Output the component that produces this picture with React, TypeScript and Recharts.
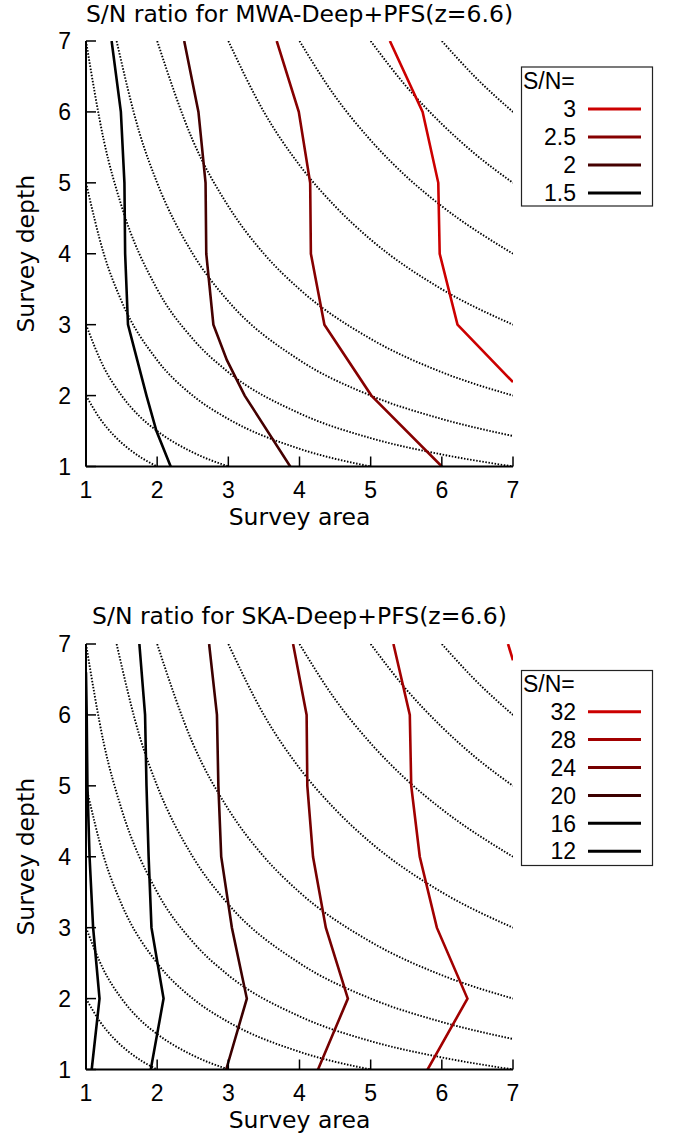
import React from 'react';
import { LineChart, Line, XAxis, YAxis, Label } from 'recharts';

type Pt = { x: number; y: number };

const TXT_FONT = "'DejaVu Sans', sans-serif";
const NUM_FONT = "'Liberation Sans', Arial, sans-serif";

const axisTicks = [1, 2, 3, 4, 5, 6, 7];

// dotted guide curves (same in both panels)
const guide2: Pt[] = [
  { x: 1, y: 2 }, { x: 1.2, y: 1.67 }, { x: 1.4, y: 1.43 }, { x: 1.6, y: 1.25 }, { x: 1.8, y: 1.11 }, { x: 2, y: 1 },
];
const guide3: Pt[] = [
  { x: 1, y: 3 }, { x: 1.25, y: 2.4 }, { x: 1.5, y: 2 }, { x: 1.75, y: 1.71 }, { x: 2, y: 1.5 }, { x: 2.5, y: 1.2 }, { x: 3, y: 1 },
];
const guide5: Pt[] = [
  { x: 1, y: 5 }, { x: 1.25, y: 4 }, { x: 1.5, y: 3.33 }, { x: 2, y: 2.5 }, { x: 2.5, y: 2 }, { x: 3, y: 1.67 }, { x: 4, y: 1.25 }, { x: 5, y: 1 },
];
const guide7: Pt[] = [
  { x: 1, y: 7 }, { x: 1.25, y: 5.6 }, { x: 1.5, y: 4.67 }, { x: 2, y: 3.5 }, { x: 2.5, y: 2.8 }, { x: 3, y: 2.33 }, { x: 4, y: 1.75 }, { x: 5, y: 1.4 }, { x: 6, y: 1.17 }, { x: 7, y: 1 },
];
const guide10: Pt[] = [
  { x: 1.43, y: 7 }, { x: 1.75, y: 5.71 }, { x: 2, y: 5 }, { x: 2.5, y: 4 }, { x: 3, y: 3.33 }, { x: 4, y: 2.5 }, { x: 5, y: 2 }, { x: 6, y: 1.67 }, { x: 7, y: 1.43 },
];
const guide14: Pt[] = [
  { x: 2, y: 7 }, { x: 2.5, y: 5.6 }, { x: 3, y: 4.67 }, { x: 3.5, y: 4 }, { x: 4, y: 3.5 }, { x: 5, y: 2.8 }, { x: 6, y: 2.33 }, { x: 7, y: 2 },
];
const guide21: Pt[] = [
  { x: 3, y: 7 }, { x: 3.5, y: 6 }, { x: 4, y: 5.25 }, { x: 4.5, y: 4.67 }, { x: 5, y: 4.2 }, { x: 6, y: 3.5 }, { x: 7, y: 3 },
];
const guide28: Pt[] = [
  { x: 4, y: 7 }, { x: 4.5, y: 6.22 }, { x: 5, y: 5.6 }, { x: 5.5, y: 5.09 }, { x: 6, y: 4.67 }, { x: 7, y: 4 },
];
const guide35: Pt[] = [
  { x: 5, y: 7 }, { x: 5.5, y: 6.36 }, { x: 6, y: 5.83 }, { x: 6.5, y: 5.38 }, { x: 7, y: 5 },
];
const guide42: Pt[] = [{ x: 6, y: 7 }, { x: 6.5, y: 6.46 }, { x: 7, y: 6 }];

const guides = [guide2, guide3, guide5, guide7, guide10, guide14, guide21, guide28, guide35, guide42];

// MWA-Deep+PFS contours
const mwaLabels = ['3', '2.5', '2', '1.5'];
const mwaColors = ['#cc0000', '#860000', '#450000', '#000000'];
const mwa3: Pt[] = [
  { x: 5.27, y: 7 }, { x: 5.73, y: 6 }, { x: 5.95, y: 5 }, { x: 5.97, y: 4 }, { x: 6.22, y: 3 }, { x: 7, y: 2.19 },
];
const mwa25: Pt[] = [
  { x: 3.68, y: 7 }, { x: 3.99, y: 6 }, { x: 4.15, y: 5 }, { x: 4.16, y: 4 }, { x: 4.35, y: 3 }, { x: 5.01, y: 2 }, { x: 6.0, y: 1 },
];
const mwa2: Pt[] = [
  { x: 2.38, y: 7 }, { x: 2.58, y: 6 }, { x: 2.68, y: 5 }, { x: 2.69, y: 4 }, { x: 2.79, y: 3 }, { x: 2.98, y: 2.5 }, { x: 3.23, y: 2 }, { x: 3.87, y: 1 },
];
const mwa15: Pt[] = [
  { x: 1.36, y: 7 }, { x: 1.49, y: 6 }, { x: 1.54, y: 5 }, { x: 1.55, y: 4 }, { x: 1.59, y: 3 }, { x: 1.72, y: 2.5 }, { x: 1.85, y: 2 }, { x: 1.99, y: 1.5 }, { x: 2.19, y: 1 },
];
const mwaContours = [mwa3, mwa25, mwa2, mwa15];

// SKA-Deep+PFS contours
const skaLabels = ['32', '28', '24', '20', '16', '12'];
const skaColors = ['#cc0000', '#a20000', '#760000', '#3c0000', '#000000', '#000000'];
const ska32: Pt[] = [{ x: 6.93, y: 7 }, { x: 7, y: 6.77 }];
const ska28: Pt[] = [
  { x: 5.32, y: 7 }, { x: 5.55, y: 6 }, { x: 5.57, y: 5 }, { x: 5.69, y: 4 }, { x: 5.93, y: 3 }, { x: 6.36, y: 2 }, { x: 5.8, y: 1 },
];
const ska24: Pt[] = [
  { x: 3.91, y: 7 }, { x: 4.1, y: 6 }, { x: 4.11, y: 5 }, { x: 4.19, y: 4 }, { x: 4.37, y: 3 }, { x: 4.68, y: 2 }, { x: 4.26, y: 1 },
];
const ska20: Pt[] = [
  { x: 2.73, y: 7 }, { x: 2.84, y: 6 }, { x: 2.86, y: 5 }, { x: 2.9, y: 4 }, { x: 3.05, y: 3 }, { x: 3.26, y: 2 }, { x: 2.97, y: 1 },
];
const ska16: Pt[] = [
  { x: 1.75, y: 7 }, { x: 1.83, y: 6 }, { x: 1.85, y: 5 }, { x: 1.88, y: 4 }, { x: 1.92, y: 3 }, { x: 2.09, y: 2 }, { x: 1.91, y: 1 },
];
const ska12: Pt[] = [
  { x: 1.0, y: 6.6 }, { x: 1.01, y: 6 }, { x: 1.02, y: 5 }, { x: 1.05, y: 4 }, { x: 1.1, y: 3 }, { x: 1.19, y: 2 }, { x: 1.08, y: 1 },
];
const skaContours = [ska32, ska28, ska24, ska20, ska16, ska12];

const PLOT_H = 425.5;
const AXIS_H = 30;

// gnuplot-like tick labels
const XTick = ({ x, y, payload }: any) => (
  <text x={x} y={y + 16} textAnchor="middle" fontSize={23} fontFamily={NUM_FONT} fill="#000">
    {payload.value}
  </text>
);
const YTick = ({ x, y, payload }: any) => (
  <text x={x} y={y + 8.2} textAnchor="end" fontSize={23} fontFamily={NUM_FONT} fill="#000">
    {payload.value}
  </text>
);

interface PanelProps {
  top: number;
  height: number;
  plotTop: number;
  contours: Pt[][];
  colors: string[];
}

const Panel = ({ top, height, plotTop, contours, colors }: PanelProps) => {
  const bottomMargin = height - plotTop - PLOT_H - AXIS_H;
  const plotBottom = plotTop + PLOT_H;
  const midY = plotTop + PLOT_H / 2;
  const axisLine = { stroke: '#000', strokeWidth: 2 };
  const tickLine = { stroke: '#000', strokeWidth: 1.5 };
  return (
    <div style={{ position: 'absolute', left: 0, top }}>
      <LineChart width={674} height={height} margin={{ top: plotTop, right: 161, bottom: bottomMargin, left: 0 }}>
        {guides.map((g, i) => (
          <Line
            key={`g${i}`}
            data={g}
            dataKey="y"
            type="monotone"
            stroke="#000"
            strokeWidth={1.9}
            strokeDasharray="1.5 1.6"
            dot={false}
            activeDot={false}
            legendType="none"
            isAnimationActive={false}
          />
        ))}
        {contours.map((c, i) => (
          <Line
            key={`c${i}`}
            data={c}
            dataKey="y"
            type="linear"
            stroke={colors[i]}
            strokeWidth={2.6}
            dot={false}
            activeDot={false}
            legendType="none"
            isAnimationActive={false}
          />
        ))}
        <XAxis
          type="number"
          dataKey="x"
          domain={[1, 7]}
          ticks={axisTicks}
          allowDataOverflow
          height={AXIS_H}
          tickSize={-10}
          tickMargin={25}
          axisLine={axisLine}
          tickLine={tickLine}
          tick={XTick}
        >
          <Label
            content={() => (
              <text x={299.5} y={plotBottom + 58} textAnchor="middle" fontSize={23.5} fontFamily={TXT_FONT} fill="#000">
                Survey area
              </text>
            )}
          />
        </XAxis>
        <XAxis
          xAxisId="top"
          orientation="top"
          type="number"
          dataKey="x"
          domain={[1, 7]}
          ticks={axisTicks}
          allowDataOverflow
          height={0}
          tickSize={-10}
          axisLine={axisLine}
          tickLine={tickLine}
          tick={false}
        />
        <YAxis
          type="number"
          dataKey="y"
          domain={[1, 7]}
          ticks={axisTicks}
          allowDataOverflow
          width={86}
          tickSize={-10}
          tickMargin={25}
          axisLine={axisLine}
          tickLine={tickLine}
          tick={YTick}
        >
          <Label
            content={() => (
              <text
                x={0}
                y={0}
                transform={`translate(33.5 ${midY}) rotate(-90)`}
                textAnchor="middle"
                fontSize={23.5}
                fontFamily={TXT_FONT}
                fill="#000"
              >
                Survey depth
              </text>
            )}
          />
        </YAxis>
        <YAxis
          yAxisId="right"
          orientation="right"
          type="number"
          dataKey="y"
          domain={[1, 7]}
          ticks={axisTicks}
          allowDataOverflow
          width={0}
          tickSize={-10}
          axisLine={axisLine}
          tickLine={tickLine}
          tick={false}
        />
      </LineChart>
    </div>
  );
};

interface LegendProps {
  y: number;
  h: number;
  firstRow: number;
  step: number;
  labels: string[];
  colors: string[];
}

const LegendBox = ({ y, h, firstRow, step, labels, colors }: LegendProps) => (
  <g fontFamily={NUM_FONT} fontSize={23} fill="#000">
    <rect x={521.5} y={y} width={131} height={h} fill="#fff" stroke="#222" strokeWidth={1.2} />
    <text x={523} y={y + 21.5}>S/N=</text>
    {labels.map((l, i) => {
      const cy = firstRow + i * step;
      return (
        <g key={l}>
          <text x={576} y={cy + 8.2} textAnchor="end">
            {l}
          </text>
          <line x1={588} x2={641} y1={cy} y2={cy} stroke={colors[i]} strokeWidth={3} />
        </g>
      );
    })}
  </g>
);

export default function App() {
  return (
    <div style={{ position: 'absolute', left: 0, top: 0, width: 674, height: 1137, background: '#fff' }}>
      <Panel top={0} height={540} plotTop={41} contours={mwaContours} colors={mwaColors} />
      <Panel top={600} height={537} plotTop={44} contours={skaContours} colors={skaColors} />
      <svg width={674} height={1137} style={{ position: 'absolute', left: 0, top: 0, pointerEvents: 'none' }}>
        <text x={299.5} y={22} textAnchor="middle" fontSize={23.5} fontFamily={TXT_FONT} fill="#000">
          S/N ratio for MWA-Deep+PFS(z=6.6)
        </text>
        <text x={299.5} y={624} textAnchor="middle" fontSize={23.5} fontFamily={TXT_FONT} fill="#000">
          S/N ratio for SKA-Deep+PFS(z=6.6)
        </text>
        <LegendBox y={67} h={139} firstRow={109} step={28} labels={mwaLabels} colors={mwaColors} />
        <LegendBox y={670.5} h={195} firstRow={711.7} step={27.9} labels={skaLabels} colors={skaColors} />
      </svg>
    </div>
  );
}
